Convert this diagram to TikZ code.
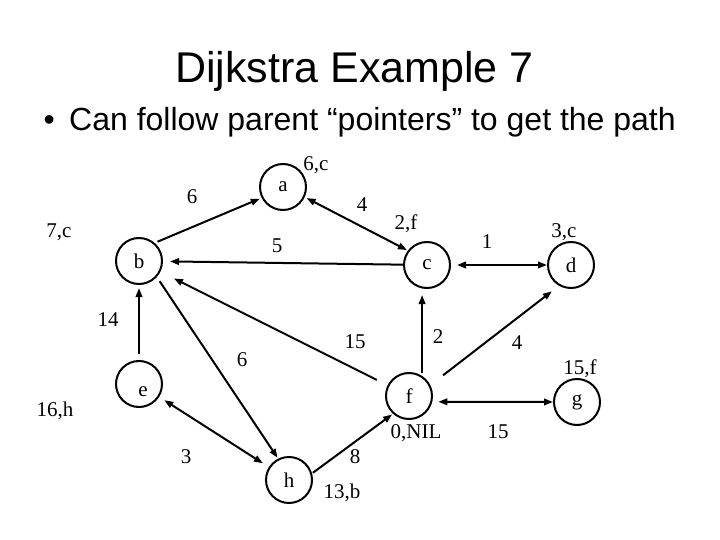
\documentclass[tikz,border=0pt]{standalone}
\usepackage{fontspec}
\setmainfont{Liberation Serif}
\setsansfont{Liberation Sans}
\usepackage{tikz}
\usetikzlibrary{arrows.meta,calc}
\tikzset{
	vnode/.style={
		draw=black,
		circle,
		line width=2pt,
		minimum size=46pt,
		inner sep=0pt,
		font=\fontsize{21}{25}\selectfont
	},
	lbl/.style={inner sep=0pt, font=\fontsize{21}{25}\selectfont},
	earr/.style={-{Triangle[length=9pt,width=6.5pt]}, line width=2pt},
	barr/.style={{Triangle[length=9pt,width=6.5pt]}-{Triangle[length=9pt,width=6.5pt]}, line width=2pt}
}

\begin{document}
\begin{tikzpicture}[x=1pt, y=-1pt]
		\useasboundingbox (0,0) rectangle (720,540);
		\node[anchor=base, font=\sffamily\fontsize{43}{50}\selectfont] (title) at (354.5,83) {Dijkstra Example 7};
		\node[anchor=base west, inner sep=0pt, font=\sffamily\fontsize{32}{38}\selectfont] (bul) at (43.5,131) {•};
		\node[anchor=base west, inner sep=0pt, font=\sffamily\fontsize{32}{38}\selectfont] (txt) at (69,131) {Can follow parent “pointers” to get the path};
		\node[vnode] (a) at (283,187) {a};
		\node[vnode] (b) at (139,261) {b};
		\node[vnode] (c) at (427,265) {c};
		\node[vnode] (d) at (571,265) {d};
		\node[vnode] (e) at (139,384) {\raisebox{-12pt}[0pt][0pt]{\hspace*{8pt}e}};
		\node[vnode] (f) at (409,396) {f};
		\node[vnode] (g) at (577,402) {g};
		\node[vnode] (h) at (289,480) {h};
		\node[lbl] (da) at (316,165) {6,c};
		\node[lbl] (db) at (59,232) {7,c};
		\node[lbl] (dc) at (406,224) {2,f};
		\node[lbl] (dd) at (564,232) {3,c};
		\node[lbl] (de) at (55,411) {16,h};
		\node[lbl] (df) at (416,433) {0,NIL};
		\node[lbl] (dg) at (580,369) {15,f};
		\node[lbl] (dh) at (342,493) {13,b};
		\node[lbl] (wba) at (192,197) {6};
		\node[lbl] (wac) at (362,205) {4};
		\node[lbl] (wcb) at (277,246) {5};
		\node[lbl] (wcd) at (487,242) {1};
		\node[lbl] (web) at (108,320) {14};
		\node[lbl] (wfb) at (355,342) {15};
		\node[lbl] (wfc) at (438,337) {2};
		\node[lbl] (wfd) at (517,343) {4};
		\node[lbl] (wbh) at (242,360) {6};
		\node[lbl] (weh) at (186,457) {3};
		\node[lbl] (whf) at (355,457) {8};
		\node[lbl] (wfg) at (498,432) {15};
		\draw[earr, shorten <=3pt, shorten >=2pt] (b.49) -- (a.207);
		\draw[barr, shorten <=2pt, shorten >=1pt] (a.335) -- (c.143);
		\draw[earr, shorten >=7pt] (c) -- (b);
		\draw[earr, shorten <=12pt, shorten >=15pt] (f) -- (b);
		\draw[earr, shorten <=5pt, shorten >=1pt] (b.-42) -- (h.117);
		\draw[earr, shorten <=6pt, shorten >=3pt] (e.north) -- (b.south);
		\draw[barr, shorten <=6pt, shorten >=7pt] (e) -- (h);
		\draw[earr, shorten <=1pt, shorten >=1pt] (h.16) -- (f.228);
		\draw[earr, shorten <=3pt, shorten >=6pt] (f.57) -- (f.57 |- c.south);
		\draw[earr, shorten <=16pt, shorten >=9pt] (f.27) -- (d.240);
		\draw[barr, shorten <=6pt] (c) -- (d);
		\draw[barr, shorten <=6pt] (f.-14) -- (g.west);
	\end{tikzpicture}
\end{document}
